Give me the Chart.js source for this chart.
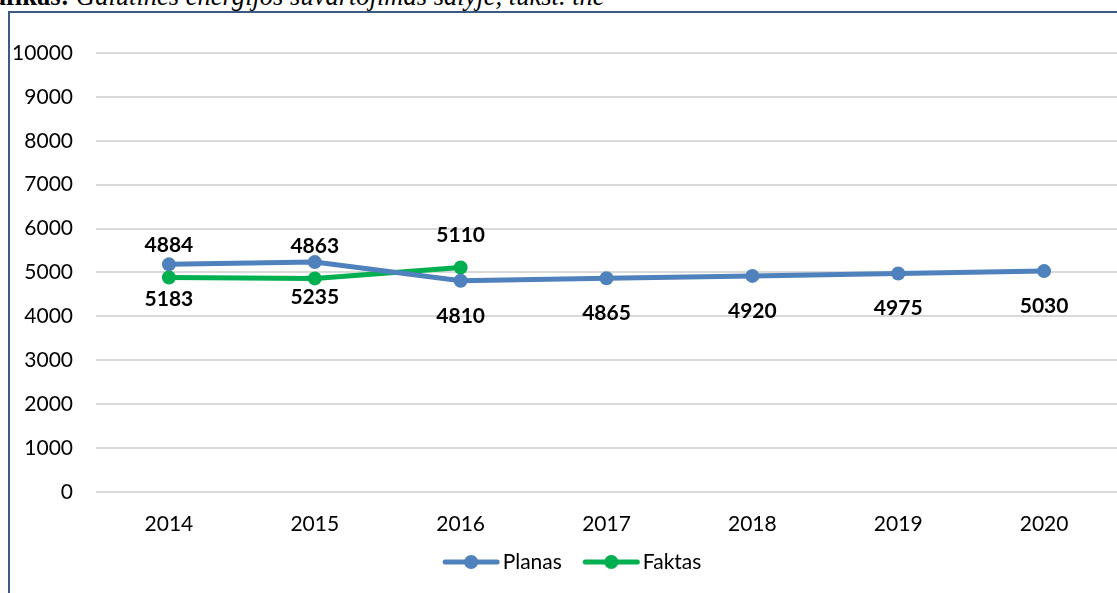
<!DOCTYPE html>
<html>
<head>
<meta charset="utf-8">
<script src="https://cdn.jsdelivr.net/npm/chart.js@4.4.1/dist/chart.umd.min.js"></script>
<style>
  html, body { margin: 0; padding: 0; background: #fff; overflow: hidden; width: 1117px; height: 593px; }
  #frame { position: absolute; left: 8px; top: 11px; width: 2000px; height: 2000px;
           border-top: 2px solid #3d5a83; border-left: 2px solid #3d5a83; box-sizing: border-box; }
  #title { position: absolute; white-space: nowrap; font-family: "Liberation Serif", "Times New Roman", serif; color: #000; line-height: normal; }
  #title b { font-weight: bold; font-style: normal; }
  #title i { font-style: italic; }
  #c { position: absolute; left: 0; top: 0; }
</style>
</head>
<body>
<div id="frame"></div>
<div id="title"><b id="tb">Grafikas:</b> <i id="ti">Galutinės energijos suvartojimas šalyje, tūkst. tne</i></div>
<canvas id="c" width="1144" height="593"></canvas>
<script>
// ---- data ----
const categories = ['2014', '2015', '2016', '2017', '2018', '2019', '2020'];
const planas = [5183, 5235, 4810, 4865, 4920, 4975, 5030];
const faktas = [4884, 4863, 5110, null, null, null, null];
const seriesNames = ['Planas', 'Faktas'];
const yMin = 0, yMax = 10000, yStep = 1000;

// ---- title placement ----
(function () {
  const t = document.getElementById('title');
  const ti = document.getElementById('ti');
  let fs = 24;
  t.style.fontSize = fs + 'px';
  const w = ti.getBoundingClientRect().width;
  fs = fs * 529 / w;
  t.style.fontSize = fs + 'px';
  const tiLeft = ti.getBoundingClientRect().left - t.getBoundingClientRect().left;
  t.style.left = (76 - tiLeft) + 'px';
  t.style.top = (5 - 0.891 * fs) + 'px';
})();

const BLUE = '#4f81bd';
const GREEN = '#00b050';
const FONT = 'Lato';

const labelPlugin = {
  id: 'valueLabels',
  afterDatasetsDraw(chart) {
    const ctx = chart.ctx;
    ctx.save();
    ctx.font = 'bold 21px ' + FONT;
    ctx.fillStyle = '#000';
    ctx.textAlign = 'center';
    ctx.textBaseline = 'middle';
    chart.data.datasets.forEach((ds, i) => {
      const meta = chart.getDatasetMeta(i);
      const off = ds.labelOffset;
      meta.data.forEach((el, j) => {
        const v = ds.data[j];
        if (v === null || v === undefined) return;
        ctx.fillText(String(v), el.x, el.y + off);
      });
    });
    ctx.restore();
  }
};

// custom legend: line + circle marker, text right after
const legendPlugin = {
  id: 'lineLegend',
  afterDraw(chart) {
    const ctx = chart.ctx;
    const cy = 562, markW = 57, gap = 3, itemGap = 21;
    ctx.save();
    ctx.font = '21px ' + FONT;
    const items = chart.data.datasets.map(ds => ({ text: ds.label, color: ds.borderColor, w: ctx.measureText(ds.label).width }));
    let total = 0;
    items.forEach((it, i) => { total += markW + gap + it.w + (i ? itemGap : 0); });
    let x = chart.width / 2 - total / 2;
    items.forEach((it, i) => {
      if (i) x += itemGap;
      ctx.strokeStyle = it.color; ctx.lineWidth = 5; ctx.lineCap = 'round';
      ctx.beginPath(); ctx.moveTo(x + 2.5, cy); ctx.lineTo(x + markW - 2.5, cy); ctx.stroke();
      ctx.fillStyle = it.color;
      ctx.beginPath(); ctx.arc(x + markW / 2, cy, 7, 0, Math.PI * 2); ctx.fill();
      x += markW + gap;
      ctx.fillStyle = '#000'; ctx.textAlign = 'left'; ctx.textBaseline = 'middle';
      ctx.fillText(it.text, x, cy);
      x += it.w;
    });
    ctx.restore();
  }
};

new Chart(document.getElementById('c'), {
  type: 'line',
  data: {
    labels: categories,
    datasets: [
      { label: seriesNames[0], data: planas, borderColor: BLUE, backgroundColor: BLUE,
        borderWidth: 5, pointRadius: 7, pointBackgroundColor: BLUE, pointBorderWidth: 0,
        tension: 0, labelOffset: 35 },
      { label: seriesNames[1], data: faktas, borderColor: GREEN, backgroundColor: GREEN,
        borderWidth: 5, pointRadius: 7, pointBackgroundColor: GREEN, pointBorderWidth: 0,
        tension: 0, spanGaps: false, labelOffset: -32 }
    ]
  },
  options: {
    responsive: false,
    animation: false,
    layout: { padding: { left: 0, right: 27, top: 53, bottom: 36 } },
    plugins: {
      tooltip: { enabled: false },
      legend: { display: false }
    },
    scales: {
      x: {
        offset: true,
        grid: { display: false, drawTicks: false },
        border: { display: false },
        ticks: { color: '#000', font: { family: FONT, size: 21 }, padding: 20, maxRotation: 0 }
      },
      y: {
        min: yMin, max: yMax,
        grid: { color: '#d9d9d9', lineWidth: 2, drawTicks: false },
        border: { display: false },
        ticks: { stepSize: yStep, color: '#000', font: { family: FONT, size: 21 }, padding: 23,
                 callback: (v) => String(v) },
        afterFit(s) { s.width = 96; }
      }
    }
  },
  plugins: [labelPlugin, legendPlugin]
});
</script>
</body>
</html>
